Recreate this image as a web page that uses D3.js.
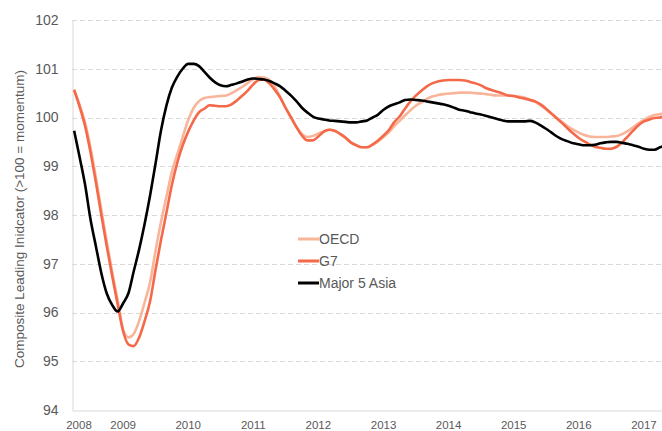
<!DOCTYPE html>
<html>
<head>
<meta charset="utf-8">
<script src="https://cdn.jsdelivr.net/npm/d3@7"></script>
<style>
  body { margin: 0; background: #fff; }
  svg { display: block; font-family: "Liberation Sans", Arial, sans-serif; }
</style>
</head>
<body>
<div id="chart"></div>
<script>
// Composite leading indicators, monthly, Apr 2008 - May 2017

let firstMonth = new Date(2008, 3, 1);
let lastMonth = new Date(2017, 4, 1);

let seriesNames = ["OECD", "G7", "Major 5 Asia"];
let seriesColors = ["#f9b59a", "#f4694a", "#000000"];

let oecd = [
    100.55, 100.27, 99.9, 99.4, 98.77, 98.1, 97.45, 96.82, 96.25,
    95.65, 95.49, 95.56, 95.83, 96.2, 96.62, 97.25, 97.85, 98.38, 98.88, 99.25, 99.6,
    99.95, 100.2, 100.33, 100.4, 100.42, 100.43, 100.44, 100.45, 100.5, 100.56, 100.63, 100.71,
    100.79, 100.83, 100.82, 100.77, 100.63, 100.42, 100.2, 100.0, 99.8, 99.66, 99.6, 99.62,
    99.67, 99.72, 99.75, 99.73, 99.66, 99.58, 99.49, 99.43, 99.39, 99.39, 99.44, 99.51,
    99.6, 99.7, 99.82, 99.93, 100.04, 100.15, 100.24, 100.31, 100.38, 100.43, 100.46, 100.48,
    100.49, 100.5, 100.51, 100.51, 100.51, 100.5, 100.49, 100.48, 100.46, 100.45, 100.45, 100.45,
    100.44, 100.43, 100.41, 100.37, 100.32, 100.25, 100.17, 100.08, 99.99, 99.9, 99.82, 99.75,
    99.69, 99.64, 99.61, 99.6, 99.6, 99.6, 99.61, 99.62, 99.66, 99.72, 99.8, 99.88,
    99.95, 100.01, 100.05, 100.07, 100.08
];

let g7 = [
    100.57, 100.23, 99.83, 99.3, 98.67, 97.99, 97.36, 96.74, 96.17,
    95.61, 95.34, 95.31, 95.49, 95.82, 96.23, 96.86, 97.48, 98.05, 98.61, 99.08, 99.43,
    99.71, 99.94, 100.1, 100.18, 100.25, 100.24, 100.23, 100.23, 100.27, 100.35, 100.45, 100.55,
    100.68, 100.77, 100.78, 100.7, 100.57, 100.41, 100.2, 100.0, 99.8, 99.63, 99.53, 99.53,
    99.61, 99.71, 99.75, 99.73, 99.67, 99.59, 99.49, 99.43, 99.39, 99.39, 99.45, 99.53,
    99.63, 99.75, 99.9, 100.02, 100.18, 100.33, 100.45, 100.55, 100.64, 100.7, 100.74, 100.76,
    100.77, 100.77, 100.77, 100.76, 100.73, 100.7, 100.66, 100.6, 100.56, 100.53, 100.49, 100.45,
    100.44, 100.41, 100.39, 100.36, 100.33, 100.27, 100.18, 100.08, 99.98, 99.88, 99.77, 99.67,
    99.58, 99.51, 99.45, 99.4, 99.38, 99.36, 99.36, 99.4, 99.49, 99.61, 99.73, 99.84,
    99.92, 99.96, 99.99, 100.0, 100.02
];

let asia5 = [
    99.73, 99.2, 98.63, 97.93, 97.36, 96.8, 96.39, 96.15, 96.02,
    96.19, 96.41, 96.84, 97.3, 97.81, 98.4, 99.04, 99.73, 100.25, 100.61, 100.84, 101.0,
    101.1, 101.1, 101.06, 100.94, 100.82, 100.72, 100.66, 100.64, 100.67, 100.7, 100.74, 100.78,
    100.8, 100.79, 100.78, 100.75, 100.7, 100.64, 100.55, 100.45, 100.33, 100.2, 100.1, 100.02,
    99.98, 99.96, 99.94, 99.93, 99.92, 99.91, 99.9, 99.9, 99.92, 99.94, 100.0, 100.06,
    100.16, 100.23, 100.27, 100.31, 100.36, 100.37, 100.36, 100.35, 100.33, 100.31, 100.29, 100.27,
    100.24, 100.2, 100.16, 100.14, 100.11, 100.08, 100.06, 100.03, 100.0, 99.97, 99.94, 99.92,
    99.92, 99.92, 99.92, 99.93, 99.9, 99.84, 99.77, 99.69, 99.61, 99.55, 99.51, 99.47,
    99.45, 99.43, 99.43, 99.44, 99.47, 99.49, 99.5, 99.5, 99.48, 99.46, 99.43, 99.4,
    99.36, 99.34, 99.34, 99.39, 99.42
];

let yTicks = [94, 95, 96, 97, 98, 99, 100, 101, 102];
let xYears = [2008, 2009, 2010, 2011, 2012, 2013, 2014, 2015, 2016, 2017];

let drawChart = function(){
    let months = d3.timeMonth.range(firstMonth, d3.timeMonth.offset(lastMonth, 1));
    let allSeries = [oecd, g7, asia5];

    let width = 662, height = 431;
    let margin = {top: 20, right: 0, bottom: 21, left: 72};

    let svg = d3.select("#chart").append("svg")
        .attr("width", width)
        .attr("height", height);

    let xScale = d3.scaleTime()
        .domain([new Date(2008, 2, 20), new Date(2017, 3, 12)])
        .range([margin.left, width - margin.right]);

    let yScale = d3.scaleLinear()
        .domain([94, 102])
        .range([height - margin.bottom, margin.top]);

    svg.append("clipPath").attr("id", "plot-clip")
      .append("rect")
        .attr("x", margin.left).attr("y", 0)
        .attr("width", width - margin.left - margin.right)
        .attr("height", height);

    // dashed gridlines
    svg.append("g")
        .selectAll("line")
        .data(yTicks.filter(d => d > 94))
        .enter().append("line")
        .attr("x1", margin.left).attr("x2", width)
        .attr("y1", d => Math.round(yScale(d)) + 0.5)
        .attr("y2", d => Math.round(yScale(d)) + 0.5)
        .attr("stroke", "#d9d9d9")
        .attr("stroke-dasharray", "5,3");

    // axis lines
    let yAxis = svg.append("g")
        .attr("transform", "translate(" + (margin.left + 0.5) + ",0)")
        .call(d3.axisLeft(yScale).tickValues(yTicks).tickSize(0).tickPadding(14));
    yAxis.select(".domain").attr("stroke", "#d9d9d9");
    yAxis.selectAll("text")
        .attr("fill", "#595959")
        .style("font-size", "14px");

    let xAxis = svg.append("g")
        .attr("transform", "translate(0," + (Math.round(yScale(94)) + 0.5) + ")")
        .call(d3.axisBottom(xScale).tickValues([]).tickSize(0));
    xAxis.select(".domain").attr("stroke", "#d9d9d9");

    svg.append("g")
        .selectAll("text")
        .data(xYears)
        .enter().append("text")
        .attr("x", d => Math.max(xScale(new Date(d, 0, 1)), margin.left + 7))
        .attr("y", 429)
        .attr("text-anchor", "middle")
        .attr("fill", "#595959")
        .style("font-size", "11.5px")
        .text(d => d);

    svg.append("text")
        .attr("transform", "translate(24,219) rotate(-90)")
        .attr("text-anchor", "middle")
        .attr("fill", "#595959")
        .style("font-size", "13.5px")
        .text("Composite Leading Inidcator (>100 = momentum)");

    let line = d3.line()
        .x((d, i) => xScale(months[i]))
        .y(d => yScale(d))
        .curve(d3.curveMonotoneX);

    let lines = svg.append("g").attr("clip-path", "url(#plot-clip)");
    allSeries.forEach(function(values, k){
        lines.append("path")
            .datum(values)
            .attr("d", line)
            .attr("fill", "none")
            .attr("stroke", seriesColors[k])
            .attr("stroke-width", 2.6)
            .attr("stroke-linejoin", "round");
    });

    let legend = svg.selectAll(".legend-item").data(seriesNames)
        .enter().append("g")
        .attr("class", "legend-item")
        .attr("transform", (d, i) => "translate(298," + (239 + i * 22) + ")");

    legend.append("line")
        .attr("x1", 0).attr("x2", 21)
        .attr("stroke", (d, i) => seriesColors[i])
        .attr("stroke-width", 3);

    legend.append("text")
        .attr("x", 21).attr("dy", "0.35em")
        .attr("fill", "#595959")
        .style("font-size", "14px")
        .text(d => d);
};

drawChart();
</script>
</body>
</html>
